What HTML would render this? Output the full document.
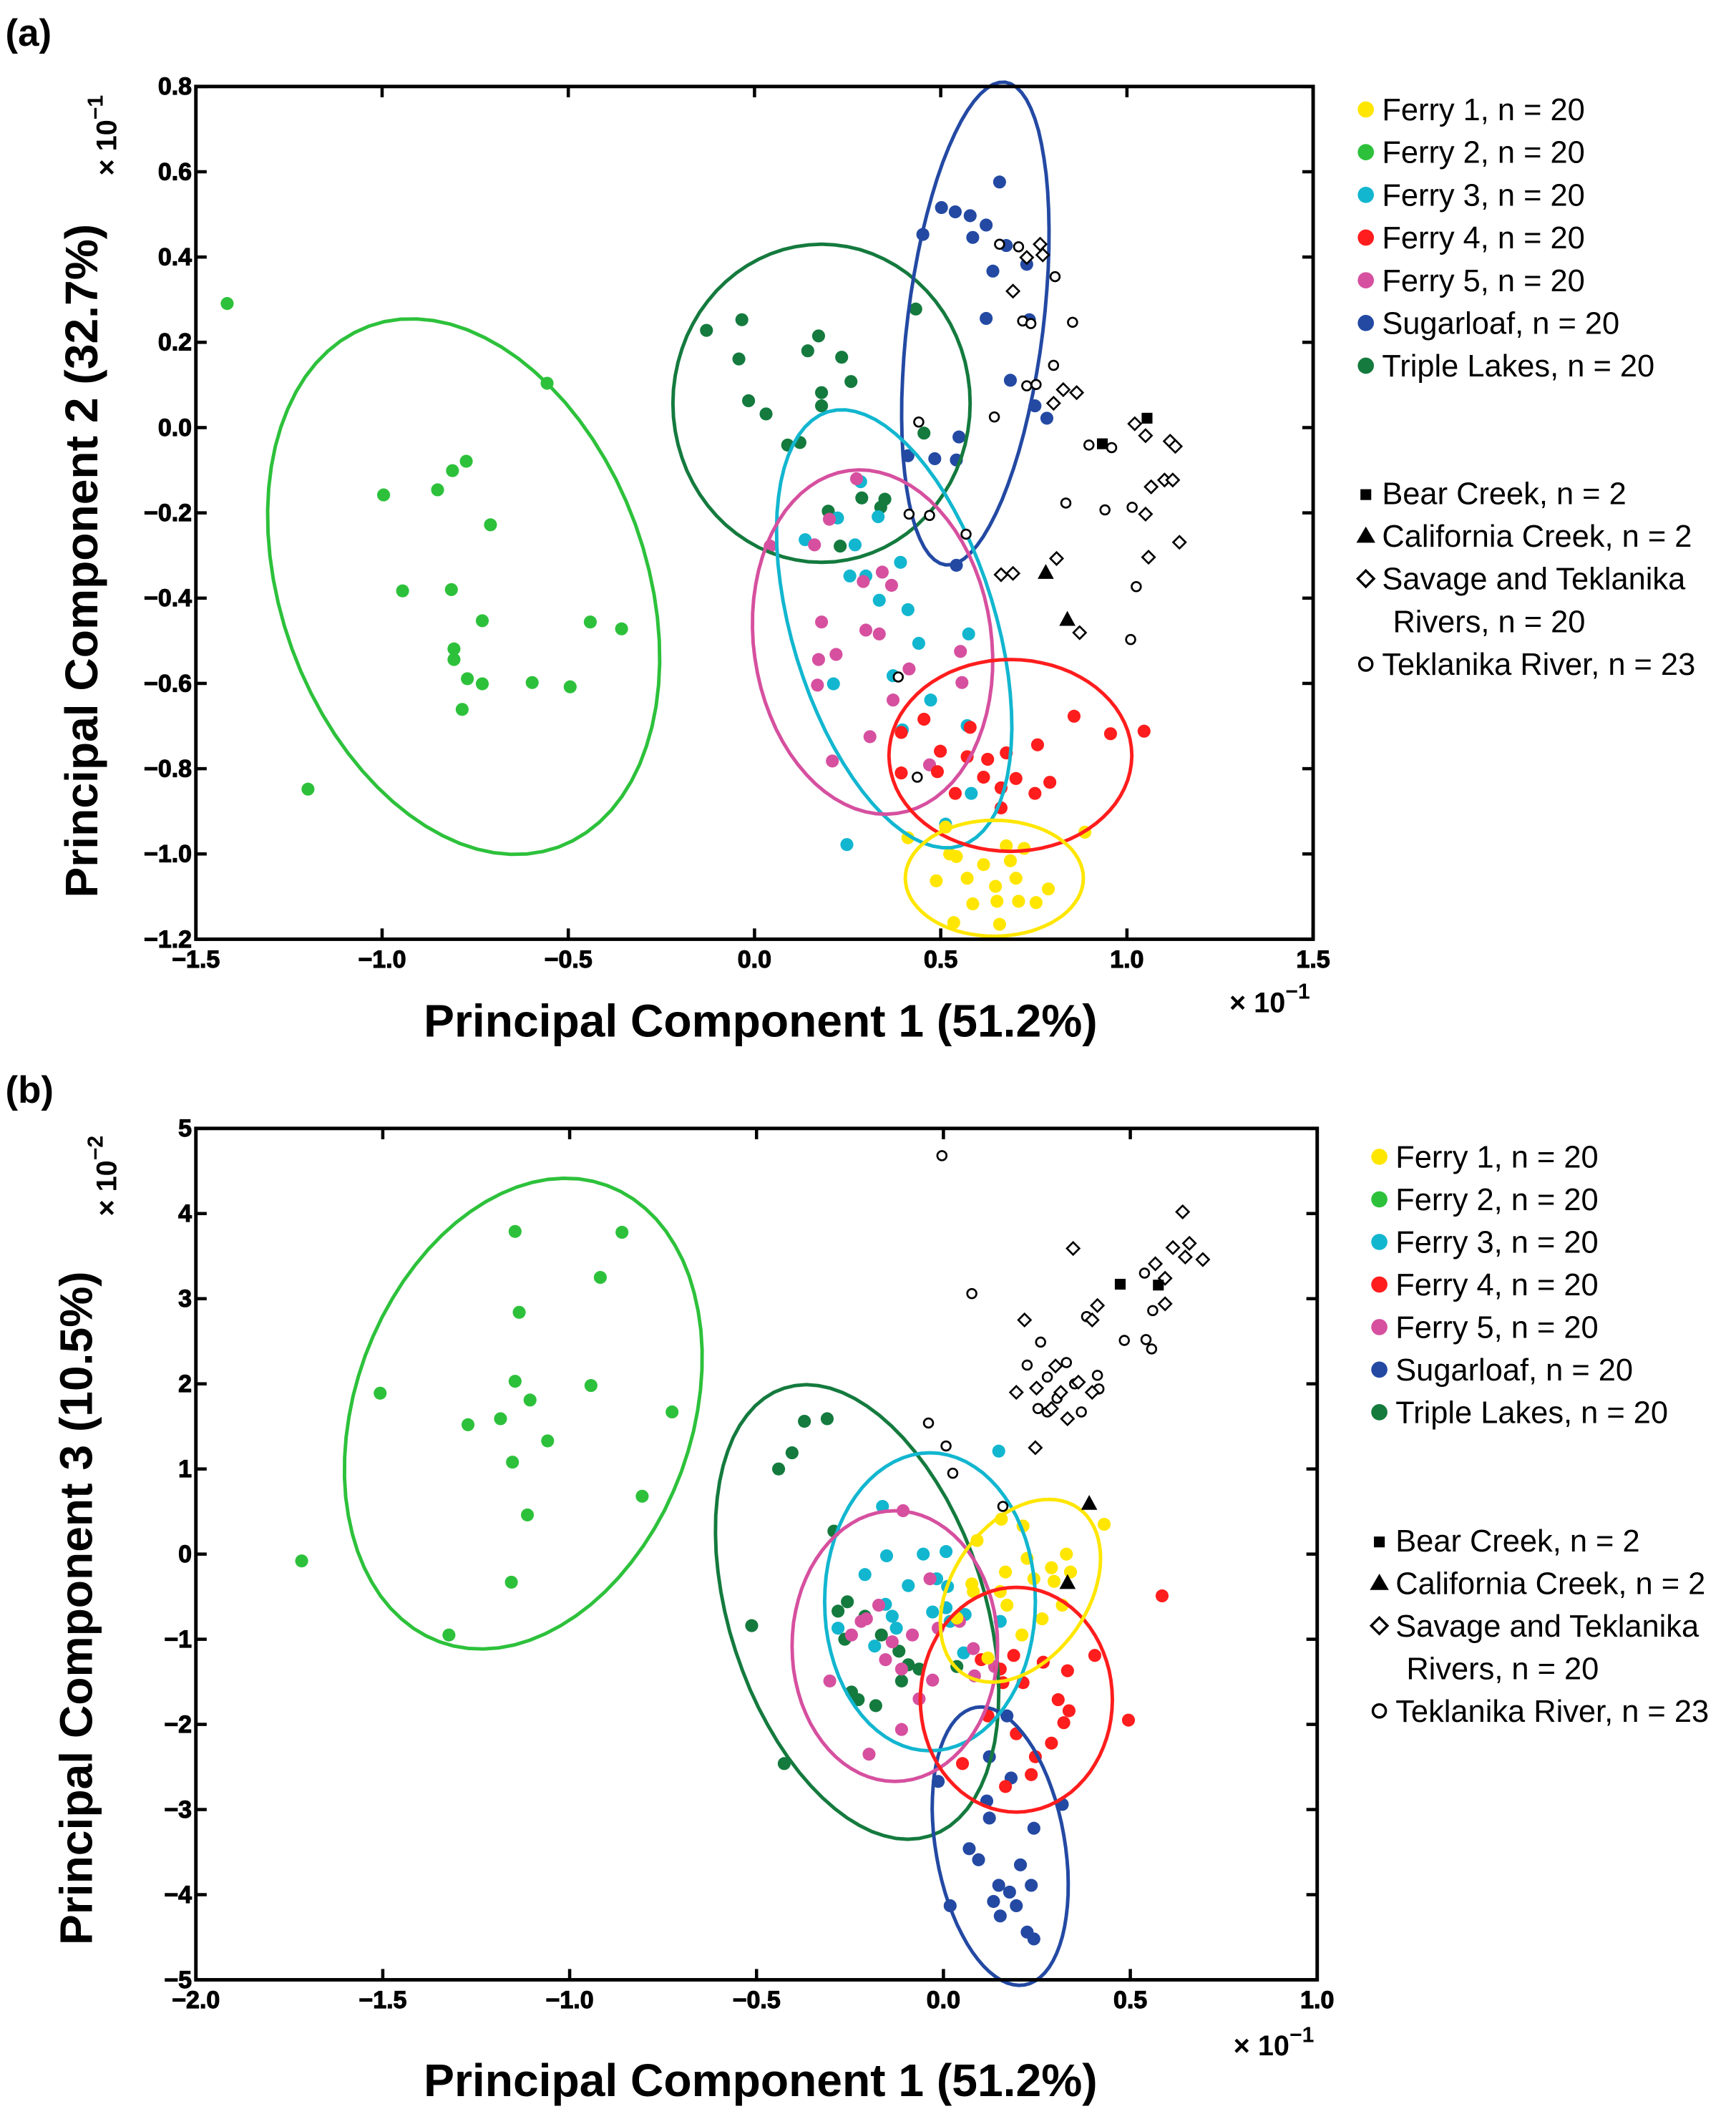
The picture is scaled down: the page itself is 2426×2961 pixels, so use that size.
<!DOCTYPE html>
<html><head><meta charset="utf-8"><style>
html,body{margin:0;padding:0;background:#fff;}
svg{display:block;}
text{font-family:"Liberation Sans",sans-serif;}
</style></head><body>
<svg id="fig" width="2426" height="2961" viewBox="0 0 1285 1568" preserveAspectRatio="none" xmlns="http://www.w3.org/2000/svg">
<rect x="0" y="0" width="1285" height="1568" fill="#fff"/>
<g id="A"></g>
<g id="B"></g>
</svg>
<script>
// ===== Panel (a) data: PC1 vs PC2 (x10^-1) =====
const aXTicks = [-1.5,-1.0,-0.5,0.0,0.5,1.0,1.5];
const aYTicks = [0.8,0.6,0.4,0.2,0.0,-0.2,-0.4,-0.6,-0.8,-1.0,-1.2];
const aFerry1 = [[0.412,-0.962],[0.513,-0.937],[0.524,-1.000],[0.542,-1.006],[0.488,-1.063],[0.571,-1.057],[0.615,-1.025],[0.676,-0.981],[0.687,-1.016],[0.724,-0.987],[0.647,-1.076],[0.702,-1.057],[0.651,-1.111],[0.709,-1.111],[0.756,-1.114],[0.789,-1.082],[0.586,-1.117],[0.535,-1.161],[0.658,-1.165],[0.887,-0.949]];
const aFerry2 = [[-1.416,0.291],[-0.557,0.104],[-0.774,-0.079],[-0.811,-0.101],[-0.851,-0.146],[-0.996,-0.158],[-0.709,-0.228],[-0.945,-0.383],[-0.814,-0.380],[-0.731,-0.453],[-0.441,-0.456],[-0.357,-0.472],[-0.807,-0.519],[-0.807,-0.544],[-0.771,-0.589],[-0.731,-0.601],[-0.597,-0.598],[-0.495,-0.608],[-0.785,-0.661],[-1.199,-0.848]];
const aFerry3 = [[0.285,-0.127],[0.223,-0.212],[0.136,-0.263],[0.270,-0.275],[0.332,-0.209],[0.256,-0.348],[0.299,-0.348],[0.392,-0.316],[0.335,-0.405],[0.412,-0.427],[0.441,-0.506],[0.575,-0.484],[0.372,-0.582],[0.212,-0.601],[0.473,-0.639],[0.571,-0.699],[0.397,-0.709],[0.582,-0.858],[0.513,-0.930],[0.248,-0.978]];
const aFerry4 = [[0.394,-0.715],[0.455,-0.684],[0.579,-0.703],[0.571,-0.772],[0.626,-0.778],[0.676,-0.763],[0.760,-0.744],[0.491,-0.807],[0.615,-0.820],[0.662,-0.845],[0.702,-0.823],[0.793,-0.832],[0.753,-0.858],[0.539,-0.858],[0.858,-0.677],[0.956,-0.718],[1.046,-0.712],[0.394,-0.810],[0.499,-0.759],[0.662,-0.892]];
const aFerry5 = [[0.201,-0.215],[0.274,-0.120],[0.042,-0.278],[0.161,-0.275],[0.343,-0.339],[0.368,-0.370],[0.292,-0.361],[0.180,-0.456],[0.335,-0.484],[0.299,-0.475],[0.172,-0.544],[0.219,-0.532],[0.169,-0.604],[0.557,-0.598],[0.553,-0.525],[0.310,-0.725],[0.209,-0.782],[0.470,-0.791],[0.372,-0.639],[0.415,-0.566]];
const aSugar = [[0.658,0.576],[0.502,0.516],[0.539,0.506],[0.579,0.497],[0.452,0.453],[0.622,0.475],[0.676,0.427],[0.622,0.256],[0.738,0.253],[0.687,0.111],[0.785,0.022],[0.549,-0.022],[0.412,-0.066],[0.484,-0.073],[0.542,-0.076],[0.542,-0.323],[0.731,0.383],[0.640,0.367],[0.586,0.446],[0.753,0.051]];
const aTriple = [[-0.129,0.228],[-0.034,0.253],[0.172,0.215],[-0.042,0.161],[0.143,0.180],[0.234,0.165],[0.259,0.108],[-0.016,0.063],[0.031,0.032],[0.180,0.082],[0.180,0.051],[0.089,-0.041],[0.122,-0.035],[0.433,0.278],[0.198,-0.196],[0.288,-0.165],[0.339,-0.187],[0.350,-0.168],[0.230,-0.278],[0.455,-0.013]];
const aBear = [[1.054,0.022],[0.934,-0.038]];
const aCalif = [[0.782,-0.339],[0.840,-0.449]];
const aSavage = [[0.731,0.399],[0.694,0.320],[0.767,0.430],[0.774,0.405],[0.829,0.089],[0.803,0.057],[0.865,0.082],[1.021,0.009],[1.050,-0.019],[1.116,-0.032],[1.130,-0.044],[1.101,-0.123],[1.065,-0.139],[1.123,-0.123],[1.050,-0.203],[1.058,-0.304],[1.141,-0.269],[0.811,-0.307],[0.662,-0.345],[0.694,-0.342],[0.873,-0.481]];
const aTek = [[0.709,0.424],[0.658,0.430],[0.807,0.354],[0.854,0.247],[0.720,0.250],[0.742,0.244],[0.756,0.101],[0.644,0.025],[0.441,0.013],[0.898,-0.041],[0.959,-0.047],[0.836,-0.177],[0.941,-0.193],[1.014,-0.187],[1.025,-0.373],[1.010,-0.497],[0.386,-0.585],[0.437,-0.820],[0.415,-0.203],[0.470,-0.206],[0.568,-0.250],[0.803,0.146],[0.731,0.098]];
// ellipses: [cx, cy, ux, uy, vx, vy] in data units
const aEllFerry1 = [0.644,-1.057,0.239,0,0,0.136];
const aEllFerry2 = [-0.781,-0.373,-0.254,0.611,0.461,0.146];
const aEllFerry3 = [0.375,-0.472,-0.178,0.509,0.261,0.070];
const aEllFerry4 = [0.687,-0.769,0.326,0,0,0.225];
const aEllFerry5 = [0.317,-0.503,-0.065,0.402,0.316,0.038];
const aEllSugar = [0.593,0.244,0.080,0.566,0.181,-0.019];
const aEllTriple = [0.180,0.057,0.399,0,0,0.373];

// ===== Panel (b) data: PC1 (x10^-1) vs PC3 (x10^-2) =====
const bXTicks = [-2.0,-1.5,-1.0,-0.5,0.0,0.5,1.0];
const bYTicks = [5,4,3,2,1,0,-1,-2,-3,-4,-5];
const bFerry1 = [[0.155,0.41],[0.213,0.33],[0.090,0.16],[0.076,-0.35],[0.166,-0.21],[0.224,-0.05],[0.242,-0.29],[0.289,-0.16],[0.329,0.0],[0.318,-0.60],[0.264,-0.76],[0.170,-0.60],[0.119,-1.22],[0.080,-0.44],[0.036,-0.75],[0.430,0.35],[0.340,-0.21],[0.296,-0.32],[0.152,-0.44],[0.210,-0.95]];
const bFerry2 = [[-1.717,-0.08],[-1.507,1.89],[-1.323,-0.95],[-1.272,1.52],[-1.185,1.59],[-1.146,3.79],[-1.135,2.84],[-1.146,2.03],[-1.153,1.08],[-1.106,1.81],[-1.113,0.46],[-1.059,1.33],[-1.156,-0.33],[-0.918,3.25],[-0.943,1.98],[-0.860,3.78],[-0.806,0.68],[-0.726,1.67]];
const bFerry3 = [[-0.163,0.56],[0.148,1.21],[0.007,0.03],[-0.054,0.0],[-0.152,-0.02],[-0.210,-0.24],[-0.155,-0.59],[-0.137,-0.73],[-0.126,-0.87],[-0.018,-0.29],[-0.029,-0.68],[-0.094,-0.37],[0.011,-0.38],[0.007,-0.63],[0.018,-0.79],[0.058,-0.71],[-0.184,-1.08],[-0.282,-0.87],[0.152,-0.79],[0.054,-1.16]];
const bFerry4 = [[0.585,-0.49],[0.405,-1.19],[0.307,-1.71],[0.336,-1.84],[0.322,-1.98],[0.495,-1.95],[0.213,-1.51],[0.159,-1.51],[0.119,-1.90],[0.051,-2.46],[0.195,-2.11],[0.246,-2.38],[0.166,-2.73],[0.152,-1.35],[0.101,-1.24],[0.188,-1.19],[0.267,-1.27],[0.332,-1.37],[0.289,-2.22],[0.235,-2.59]];
const bFerry5 = [[-0.108,0.51],[-0.304,-1.49],[-0.220,-0.79],[-0.206,-0.76],[-0.155,-1.24],[-0.137,-1.03],[-0.083,-0.95],[-0.112,-1.35],[-0.112,-2.06],[-0.199,-2.35],[-0.065,-1.70],[0.043,-0.79],[0.080,-1.11],[0.083,-1.43],[0.137,-1.32],[-0.029,-1.48],[-0.036,-0.29],[-0.014,-0.87],[-0.246,-0.95],[-0.173,-0.60]];
const bSugar = [[0.181,-2.63],[0.318,-2.94],[0.116,-2.90],[0.242,-3.22],[0.069,-3.46],[0.094,-3.59],[0.148,-3.89],[0.177,-3.97],[0.235,-3.89],[0.134,-4.08],[0.195,-4.13],[0.152,-4.25],[0.224,-4.44],[0.242,-4.52],[0.018,-4.13],[0.170,-1.90],[0.123,-2.38],[-0.014,-2.67],[0.123,-3.10],[0.206,-3.65]];
const bTriple = [[-0.372,1.56],[-0.311,1.59],[-0.441,1.00],[-0.405,1.19],[-0.513,-0.84],[-0.426,-2.46],[-0.293,0.27],[-0.282,-0.67],[-0.257,-0.56],[-0.210,-0.73],[-0.264,-1.00],[-0.246,-1.62],[-0.228,-1.71],[-0.181,-1.78],[-0.112,-1.49],[-0.094,-1.30],[-0.065,-1.35],[-0.119,-1.14],[-0.166,-0.95],[0.036,-1.32]];
const bBear = [[0.473,3.17],[0.575,3.16]];
const bCalif = [[0.390,0.60],[0.332,-0.33]];
const bSavage = [[0.347,3.59],[0.217,2.75],[0.412,2.92],[0.398,2.75],[0.195,1.90],[0.249,1.95],[0.300,2.21],[0.314,1.90],[0.361,2.02],[0.398,1.90],[0.289,1.71],[0.332,1.59],[0.246,1.25],[0.593,3.24],[0.593,2.94],[0.640,4.02],[0.658,3.65],[0.647,3.49],[0.694,3.46],[0.567,3.41],[0.614,3.60]];
const bTek = [[-0.004,4.68],[0.076,3.06],[-0.040,1.54],[0.007,1.27],[0.025,0.95],[0.260,2.49],[0.278,2.08],[0.383,2.79],[0.484,2.51],[0.542,2.52],[0.560,2.86],[0.538,3.30],[0.304,1.83],[0.351,2.00],[0.416,1.94],[0.278,1.67],[0.369,1.67],[0.253,1.71],[0.557,2.41],[0.224,2.22],[0.159,0.56],[0.412,2.10],[0.329,2.25]];
const bEllFerry1 = [0.206,-0.43,0.155,0.97,0.148,-0.46];
const bEllFerry2 = [-1.124,1.65,0.224,2.68,0.423,-0.68];
const bEllFerry3 = [-0.036,-0.56,0.282,0,0,1.75];
const bEllFerry4 = [0.195,-1.71,0.257,0,0,1.32];
const bEllFerry5 = [-0.130,-1.08,0.275,0,0,1.59];
const bEllSugar = [0.152,-3.43,-0.065,1.63,0.170,0.13];
const bEllTriple = [-0.231,-0.68,-0.195,2.63,0.325,0.46];

const legendLabels = ["Ferry 1, n = 20","Ferry 2, n = 20","Ferry 3, n = 20","Ferry 4, n = 20","Ferry 5, n = 20","Sugarloaf, n = 20","Triple Lakes, n = 20"];
const refLabels = ["Bear Creek, n = 2","California Creek, n = 2","Savage and Teklanika","Teklanika River, n = 23"];

const C = {f1:"#ffe600",f2:"#2dc13b",f3:"#12b6cf",f4:"#ff1d1d",f5:"#d6509f",su:"#2349a3",tl:"#147a3e"};
const NS="http://www.w3.org/2000/svg";
function mk(parent,tag,attrs,name,inter){const e=document.createElementNS(NS,tag);for(const k in attrs)e.setAttribute(k,attrs[k]);


parent.appendChild(e);return e;}
function txt(parent,x,y,s,attrs,name){const t=mk(parent,'text',Object.assign({x:x,y:y},attrs),name,false);t.textContent=s;return t;}

function panel(g,cfg){
  const {L,R,T,Bt,xmin,xmax,ymin,ymax}=cfg;
  const sx=v=>L+(v-xmin)/(xmax-xmin)*(R-L);
  const sy=v=>Bt-(v-ymin)/(ymax-ymin)*(Bt-T);
  const ells=[[cfg.e.f2,C.f2,'ferry2'],[cfg.e.tl,C.tl,'triple-lakes'],[cfg.e.su,C.su,'sugarloaf'],[cfg.e.f3,C.f3,'ferry3'],[cfg.e.f5,C.f5,'ferry5'],[cfg.e.f4,C.f4,'ferry4'],[cfg.e.f1,C.f1,'ferry1']];
  const pts=[[cfg.p.f2,C.f2,'ferry2'],[cfg.p.tl,C.tl,'triple-lakes'],[cfg.p.su,C.su,'sugarloaf'],[cfg.p.f3,C.f3,'ferry3'],[cfg.p.f5,C.f5,'ferry5'],[cfg.p.f4,C.f4,'ferry4'],[cfg.p.f1,C.f1,'ferry1']];
  pts.forEach(([arr,col,nm])=>{arr.forEach(p=>{mk(g,'circle',{cx:sx(p[0]),cy:sy(p[1]),r:4.8,fill:col},nm+'-point',false);});});
  ells.forEach(([e,col,nm])=>{let d='';for(let i=0;i<=72;i++){const t=i/72*2*Math.PI;const x=e[0]+Math.cos(t)*e[2]+Math.sin(t)*e[4];const y=e[1]+Math.cos(t)*e[3]+Math.sin(t)*e[5];d+=(i?'L':'M')+sx(x).toFixed(1)+','+sy(y).toFixed(1);}
    mk(g,'path',{d:d+'Z',fill:'none',stroke:col,'stroke-width':2.6},nm+'-ellipse',false);});
  cfg.p.tek.forEach(p=>{mk(g,'circle',{cx:sx(p[0]),cy:sy(p[1]),r:3.4,fill:'#fff',stroke:'#000','stroke-width':1.4},'teklanika-point',false);});
  cfg.p.sav.forEach(p=>{const x=sx(p[0]),y=sy(p[1]);mk(g,'path',{d:`M${x},${y-4.6}L${x+4.6},${y}L${x},${y+4.6}L${x-4.6},${y}Z`,fill:'#fff',stroke:'#000','stroke-width':1.4},'savage-point',false);});
  cfg.p.bear.forEach(p=>{mk(g,'rect',{x:sx(p[0])-4,y:sy(p[1])-4,width:8,height:8,fill:'#000'},'bear-creek-point',false);});
  cfg.p.cal.forEach(p=>{const x=sx(p[0]),y=sy(p[1]);mk(g,'path',{d:`M${x},${y-6}L${x+6},${y+5}L${x-6},${y+5}Z`,fill:'#000'},'california-creek-point',false);});
  mk(g,'rect',{x:L,y:T,width:R-L,height:Bt-T,fill:'none',stroke:'#000','stroke-width':2.6},'plot-frame',false);
  cfg.xt.forEach(v=>{const x=sx(v);mk(g,'line',{x1:x,y1:Bt,x2:x,y2:Bt-8,stroke:'#000','stroke-width':2.4},'x-tick',false);mk(g,'line',{x1:x,y1:T,x2:x,y2:T+8,stroke:'#000','stroke-width':2.4},'x-tick-top',false);
    txt(g,x,Bt+21,v.toFixed(1).replace('-','\u2212'),{'font-size':18,'font-weight':'bold','text-anchor':'middle',stroke:'#000','stroke-width':0.6},'x-tick-label');});
  cfg.yt.forEach(v=>{const y=sy(v);mk(g,'line',{x1:L,y1:y,x2:L+8,y2:y,stroke:'#000','stroke-width':2.4},'y-tick',false);mk(g,'line',{x1:R,y1:y,x2:R-8,y2:y,stroke:'#000','stroke-width':2.4},'y-tick-right',false);
    txt(g,L-3,y+6,(cfg.yfmt?v.toFixed(1):String(v)).replace('-','\u2212'),{'font-size':18,'font-weight':'bold','text-anchor':'end',stroke:'#000','stroke-width':0.6},'y-tick-label');});
  return {sx,sy};
}
function legend(g,x0,y0,dy,x1,y1){
  const cols=[C.f1,C.f2,C.f3,C.f4,C.f5,C.su,C.tl];
  legendLabels.forEach((s,i)=>{const y=y0+i*dy;mk(g,'circle',{cx:x0,cy:y,r:6,fill:cols[i]},'legend-marker',false);txt(g,x0+12,y+8,s,{'font-size':23},'legend-entry');});
  let y=y1;
  mk(g,'rect',{x:x0-4,y:y-3,width:8,height:8,fill:'#000'},'legend-marker',false);txt(g,x0+12,y+8,refLabels[0],{'font-size':23},'legend-entry');
  y+=dy;mk(g,'path',{d:`M${x0},${y-7}L${x0+7},${y+5}L${x0-7},${y+5}Z`,fill:'#000'},'legend-marker',false);txt(g,x0+12,y+8,refLabels[1],{'font-size':23},'legend-entry');
  y+=dy;mk(g,'path',{d:`M${x0},${y-6}L${x0+6},${y}L${x0},${y+6}L${x0-6},${y}Z`,fill:'#fff',stroke:'#000','stroke-width':1.8},'legend-marker',false);txt(g,x0+12,y+8,refLabels[2],{'font-size':23},'legend-entry');
  txt(g,x0+20,y+dy+8,"Rivers, n = 20",{'font-size':23},'legend-entry');
  y+=2*dy;mk(g,'circle',{cx:x0,cy:y,r:4.8,fill:'#fff',stroke:'#000','stroke-width':1.8},'legend-marker',false);txt(g,x0+12,y+8,refLabels[3],{'font-size':23},'legend-entry');
}
const A=document.getElementById('A'),B=document.getElementById('B');
panel(A,{L:145,R:972,T:64,Bt:695,xmin:-1.5,xmax:1.5,ymin:-1.2,ymax:0.8,xt:aXTicks,yt:aYTicks,yfmt:true,
 p:{f1:aFerry1,f2:aFerry2,f3:aFerry3,f4:aFerry4,f5:aFerry5,su:aSugar,tl:aTriple,bear:aBear,cal:aCalif,sav:aSavage,tek:aTek},
 e:{f1:aEllFerry1,f2:aEllFerry2,f3:aEllFerry3,f4:aEllFerry4,f5:aEllFerry5,su:aEllSugar,tl:aEllTriple}});
panel(B,{L:145,R:975,T:835,Bt:1465,xmin:-2.0,xmax:1.0,ymin:-5,ymax:5,xt:bXTicks,yt:bYTicks,yfmt:false,
 p:{f1:bFerry1,f2:bFerry2,f3:bFerry3,f4:bFerry4,f5:bFerry5,su:bSugar,tl:bTriple,bear:bBear,cal:bCalif,sav:bSavage,tek:bTek},
 e:{f1:bEllFerry1,f2:bEllFerry2,f3:bEllFerry3,f4:bEllFerry4,f5:bEllFerry5,su:bEllSugar,tl:bEllTriple}});
legend(A,1011,81,31.6,0,365);
legend(B,1021,856,31.5,0,1140);
txt(A,4,34,"(a)",{'font-size':28,'font-weight':'bold'},'panel-label');
txt(B,4,816,"(b)",{'font-size':28,'font-weight':'bold'},'panel-label');
txt(A,563,767,"Principal Component 1 (51.2%)",{'font-size':34,'font-weight':'bold','text-anchor':'middle'},'x-axis-title');
txt(B,563,1551,"Principal Component 1 (51.2%)",{'font-size':34,'font-weight':'bold','text-anchor':'middle'},'x-axis-title');
txt(A,0,0,"Principal Component 2 (32.7%)",{'font-size':34,'font-weight':'bold','text-anchor':'middle',transform:'translate(72,415) rotate(-90)'},'y-axis-title');
txt(B,0,0,"Principal Component 3 (10.5%)",{'font-size':34,'font-weight':'bold','text-anchor':'middle',transform:'translate(68,1190) rotate(-90)'},'y-axis-title');
function expo(g,x,y,p,rot,name){const t=mk(g,'text',{x:x,y:y,'font-size':21,'font-weight':'bold',transform:rot?`rotate(-90 ${x} ${y})`:''},name,false);
 t.textContent='\u00d7 10';const s=mk(t,'tspan',{dy:-10,'font-size':16},name+'-power',false);s.textContent=p;}
expo(A,910,749,'\u22121',false,'x-axis-exponent');
expo(A,86,130,'\u22121',true,'y-axis-exponent');
expo(B,913,1521,'\u22121',false,'x-axis-exponent');
expo(B,86,900,'\u22122',true,'y-axis-exponent');
</script>
</body></html>
